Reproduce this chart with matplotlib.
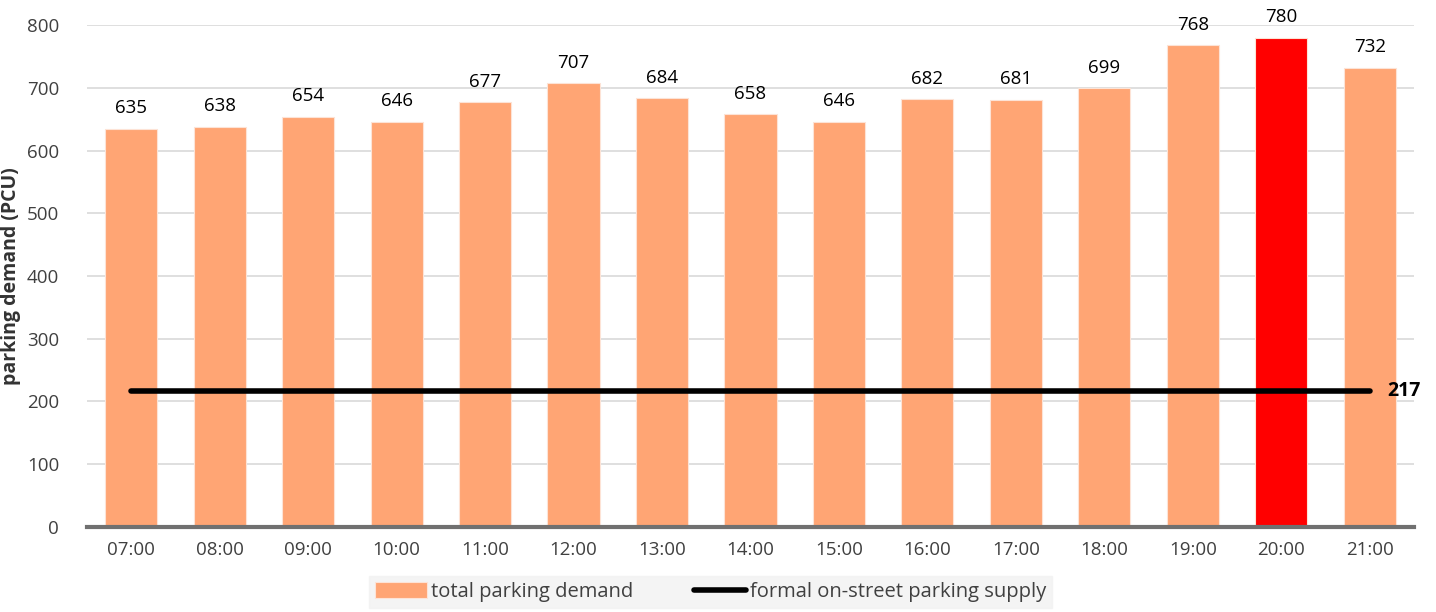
import matplotlib.pyplot as plt
import numpy as np

hours = ['07:00', '08:00', '09:00', '10:00', '11:00', '12:00', '13:00', '14:00',
         '15:00', '16:00', '17:00', '18:00', '19:00', '20:00', '21:00']
demand = [635, 638, 654, 646, 677, 707, 684, 658, 646, 682, 681, 699, 768, 780, 732]
supply = [217] * len(hours)
peak_hour = '20:00'

plt.rcParams['font.family'] = ['Open Sans', 'DejaVu Sans']

fig = plt.figure(figsize=(14.36, 6.12), dpi=100)
ax = fig.add_axes([0.0606, 0.139, 0.924, 0.820])

x = np.arange(len(hours))
colors = ['#ff0000' if h == peak_hour else '#ffa574' for h in hours]
bars = ax.bar(x, demand, width=0.59, color=colors, edgecolor='#fde3d6',
              linewidth=0.8, zorder=2, label='total parking demand')
for xi, v in zip(x, demand):
    ax.text(xi, v + 18, str(v), ha='center', va='bottom', fontsize=13.5, color='black')

line, = ax.plot(x, supply, color='black', linewidth=4, solid_capstyle='round', zorder=3,
                label='formal on-street parking supply')
ax.text(x[-1] + 0.2, supply[-1], str(supply[-1]), ha='left', va='center',
        fontsize=14, fontweight='bold', color='black')

ax.set_xlim(-0.5, len(hours) - 0.5)
ax.set_ylim(0, 800)
ax.set_yticks(range(0, 801, 100))
ax.set_xticks(x)
ax.set_xticklabels(hours)
ax.tick_params(axis='both', length=0, labelsize=13.5, labelcolor='#404040')
ax.tick_params(axis='y', pad=20)
ax.tick_params(axis='x', pad=10)
ax.grid(axis='y', color='#d9d9d9', linewidth=1.2, zorder=0)
ax.set_axisbelow(True)
for s in ['top', 'right', 'left']:
    ax.spines[s].set_visible(False)
ax.spines['bottom'].set_color('#707070')
ax.spines['bottom'].set_linewidth(3)
ax.set_ylabel('parking demand (PCU)', fontsize=14, fontweight='bold', color='#333333', labelpad=4)

leg = fig.legend([bars, line], ['total parking demand', 'formal on-street parking supply'],
                 loc='lower center', bbox_to_anchor=(0.4948, -0.01), ncol=2, frameon=True,
                 fontsize=14.5, handlelength=2.6, handleheight=0.8, columnspacing=3,
                 borderpad=0.3, handletextpad=0.2, fancybox=False)
leg.get_frame().set_facecolor('#f2f2f2')
leg.get_frame().set_edgecolor('#f2f2f2')
for t in leg.get_texts():
    t.set_color('#404040')

fig.savefig('out.png', dpi=100)
